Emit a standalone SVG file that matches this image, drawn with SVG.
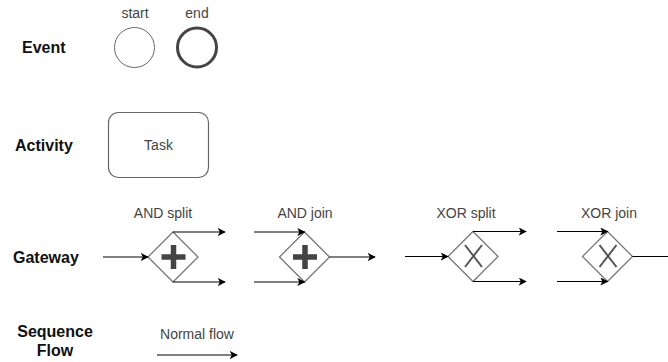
<svg xmlns="http://www.w3.org/2000/svg" width="668" height="362" viewBox="0 0 668 362">
<defs>
<marker id="arr" viewBox="0 0 10 10" refX="9" refY="5" markerWidth="8" markerHeight="8" markerUnits="userSpaceOnUse" orient="auto">
<path d="M0,0 L10,5 L0,10 L2.5,5 Z" fill="#000"/>
</marker>
</defs>
<style>
.hd{font-family:"Liberation Sans",Arial,sans-serif;font-size:16px;font-weight:bold;fill:#111}
.lb{font-family:"Liberation Sans",Arial,sans-serif;font-size:14px;fill:#444}
.gw{fill:#fff;stroke:#777;stroke-width:1.3}
.ln{fill:none;stroke:#000;stroke-width:1;marker-end:url(#arr)}
</style>
<rect width="668" height="362" fill="#fff"/>
<g id="headings">
<text class="hd" x="22" y="53">Event</text>
<text class="hd" x="15" y="151">Activity</text>
<text class="hd" x="13" y="263">Gateway</text>
<text class="hd" x="55" y="337" text-anchor="middle">Sequence</text>
<text class="hd" x="55" y="356" text-anchor="middle">Flow</text>
</g>
<g id="start-event">
<text class="lb" x="135" y="18" text-anchor="middle">start</text>
<circle cx="134.5" cy="47.5" r="20" fill="#fff" stroke="#666" stroke-width="1"/>
</g>
<g id="end-event">
<text class="lb" x="197" y="18" text-anchor="middle">end</text>
<circle cx="197" cy="47.5" r="19.5" fill="#fff" stroke="#444" stroke-width="3"/>
</g>
<g id="task">
<rect x="108.5" y="112.5" width="100" height="65" rx="10" fill="#fff" stroke="#666" stroke-width="1.2"/>
<text class="lb" x="158.5" y="150" text-anchor="middle">Task</text>
</g>
<g id="and-split">
<text class="lb" x="163" y="218" text-anchor="middle">AND split</text>
<path class="gw" d="M173,232 L198,257 L173,282 L148,257 Z"/>
<path d="M173.5,245 V269 M161.5,257 H185.5" stroke="#444" stroke-width="5.5" fill="none"/>
</g>
<g id="and-join">
<text class="lb" x="305" y="218" text-anchor="middle">AND join</text>
<path class="gw" d="M304.5,232 L329.5,257 L304.5,282 L279.5,257 Z"/>
<path d="M305,245 V269 M293,257 H317" stroke="#444" stroke-width="5.5" fill="none"/>
</g>
<g id="xor-split">
<text class="lb" x="466" y="218" text-anchor="middle">XOR split</text>
<path class="gw" d="M473,231.5 L498,256.5 L473,281.5 L448,256.5 Z"/>
<path d="M465,245 L482,267 M482,245 L465,267" stroke="#555" stroke-width="2" fill="none"/>
</g>
<g id="xor-join">
<text class="lb" x="609" y="218" text-anchor="middle">XOR join</text>
<path class="gw" d="M607.5,231.5 L632.5,256.5 L607.5,281.5 L582.5,256.5 Z"/>
<path d="M599.5,245 L616.5,267 M616.5,245 L599.5,267" stroke="#555" stroke-width="2" fill="none"/>
</g>
<g id="normal-flow">
<text class="lb" x="197" y="339" text-anchor="middle">Normal flow</text>
</g>
<g id="connectors">
<path class="ln" d="M103,257 H148"/>
<path class="ln" d="M173,232 H225"/>
<path class="ln" d="M173,282 H225"/>
<path class="ln" d="M254,232 H304.5"/>
<path class="ln" d="M254,282 H304.5"/>
<path class="ln" d="M329.5,257 H375"/>
<path class="ln" d="M405,256.5 H448"/>
<path class="ln" d="M473,231.5 H526"/>
<path class="ln" d="M473,281.5 H526"/>
<path class="ln" d="M557,231.5 H607.5"/>
<path class="ln" d="M557,281.5 H607.5"/>
<path class="ln" d="M632.5,256.5 H680"/>
<path class="ln" d="M157,355 H237"/>
</g>
</svg>
